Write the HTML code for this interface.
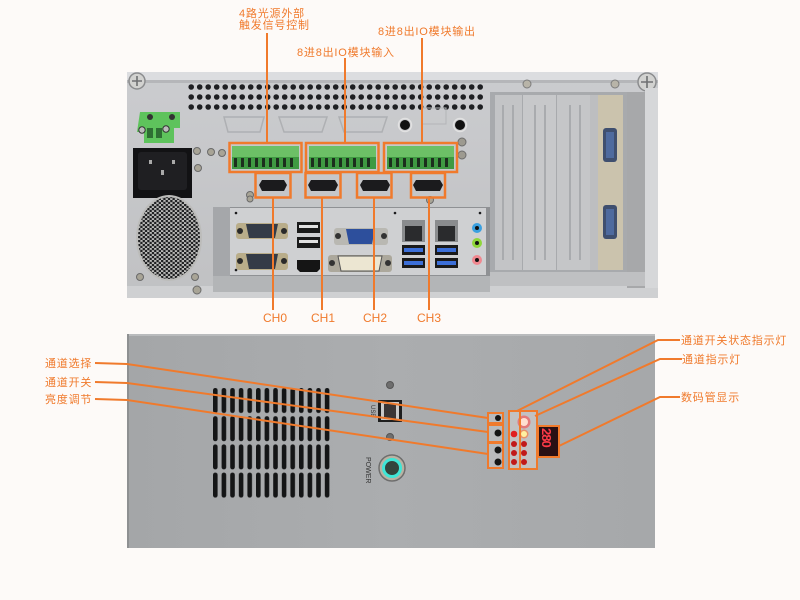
<!DOCTYPE html>
<html><head><meta charset="utf-8"><style>
html,body{margin:0;padding:0;background:#fdfaf8;}
svg{display:block;}
text{font-family:"Liberation Sans","Noto Sans CJK SC",sans-serif;}
</style></head><body>
<svg width="800" height="600" viewBox="0 0 800 600" xmlns="http://www.w3.org/2000/svg">
<defs>
<pattern id="holes" x="187" y="82" width="8.5" height="10" patternUnits="userSpaceOnUse">
<circle cx="4.2" cy="5" r="2.8" fill="#1e1f22"/></pattern>
<pattern id="slots" x="213" y="388" width="8.6" height="28.2" patternUnits="userSpaceOnUse">
<rect x="0" y="0" width="4.6" height="25" rx="2.3" fill="#141516"/></pattern>
<pattern id="fan" x="0" y="0" width="4.6" height="4" patternUnits="userSpaceOnUse">
<circle cx="1.15" cy="1" r="1.3" fill="#1f2022"/><circle cx="3.45" cy="3" r="1.3" fill="#1f2022"/></pattern>
<linearGradient id="topg" x1="0" y1="0" x2="0" y2="1"><stop offset="0" stop-color="#cbcccf"/><stop offset="1" stop-color="#c0c1c3"/></linearGradient>
<linearGradient id="botg" x1="0" y1="0" x2="1" y2="0"><stop offset="0" stop-color="#a4a6a8"/><stop offset="0.5" stop-color="#abadaf"/><stop offset="1" stop-color="#a6a8aa"/></linearGradient>
</defs>

<!-- ============ TOP CHASSIS ============ -->
<rect x="127" y="72" width="531" height="226" fill="url(#topg)"/>
<rect x="127" y="72" width="531" height="8" fill="#dcdde0"/>
<rect x="127" y="80" width="531" height="3" fill="#b5b6b9"/>
<rect x="127" y="286" width="531" height="12" fill="#cfd0d2"/>
<circle cx="137" cy="81" r="8" fill="#d2d2d0" stroke="#8b8c8e" stroke-width="1.5"/>
<path d="M132 81h10M137 76v10" stroke="#6f7072" stroke-width="1.6"/>
<circle cx="647" cy="82" r="9" fill="#d2d2d0" stroke="#8b8c8e" stroke-width="1.5"/>
<path d="M641 82h12M647 76v12" stroke="#6f7072" stroke-width="1.6"/>
<circle cx="527" cy="84" r="4" fill="#b8b4a8" stroke="#7c7c7c"/>
<circle cx="615" cy="84" r="4" fill="#b8b4a8" stroke="#7c7c7c"/>
<rect x="187" y="82" width="298" height="30" fill="url(#holes)"/>
<path d="M224 117 h40 l-4 15 h-32 z" fill="none" stroke="#aeb0b3" stroke-width="1.5"/>
<path d="M279 117 h48 l-5 15 h-38 z" fill="none" stroke="#aeb0b3" stroke-width="1.5"/>
<path d="M339 117 h48 l-5 15 h-38 z" fill="none" stroke="#aeb0b3" stroke-width="1.5"/>
<rect x="422" y="108" width="24" height="16" fill="none" stroke="#b3b5b8"/>
<circle cx="405" cy="125" r="5" fill="#111"/><circle cx="405" cy="125" r="6.5" fill="none" stroke="#e2e2e2" stroke-width="1.5"/>
<circle cx="460" cy="125" r="5" fill="#111"/><circle cx="460" cy="125" r="6.5" fill="none" stroke="#e2e2e2" stroke-width="1.5"/>
<circle cx="462" cy="142" r="4" fill="#9d9a90" stroke="#6d6d6d"/>
<circle cx="462" cy="155" r="4" fill="#9d9a90" stroke="#6d6d6d"/>
<path d="M140 112 h40 v16 h-6 v15 h-30 v-11 h-7 z" fill="#5ec35c"/>
<rect x="147" y="128" width="6" height="10" fill="#2e6e33"/><rect x="156" y="128" width="6" height="10" fill="#2e6e33"/>
<circle cx="150" cy="117" r="3" fill="#333"/><circle cx="172" cy="117" r="3" fill="#333"/>
<circle cx="142" cy="130" r="3.2" fill="#bbb" stroke="#333"/><circle cx="166" cy="129" r="3.2" fill="#bbb" stroke="#333"/>
<rect x="133" y="148" width="59" height="50" fill="#121214"/>
<rect x="138" y="152" width="49" height="38" rx="3" fill="#1f1f22"/>
<rect x="149" y="160" width="3" height="4" fill="#aaa"/><rect x="172" y="160" width="3" height="4" fill="#aaa"/><rect x="161" y="170" width="3" height="5" fill="#aaa"/>
<g fill="#a8a496" stroke="#6a6a6a">
<circle cx="197" cy="151" r="3.5"/><circle cx="198" cy="168" r="3.5"/><circle cx="211" cy="152" r="3.5"/><circle cx="222" cy="153" r="3.5"/>
<circle cx="250" cy="195" r="3.5"/><circle cx="140" cy="277" r="3.5"/><circle cx="195" cy="277" r="3.5"/><circle cx="197" cy="290" r="4"/>
<circle cx="430" cy="200" r="3.5"/><circle cx="250" cy="199" r="3"/>
</g>
<ellipse cx="169" cy="238" rx="33" ry="43" fill="#bcbcba"/>
<ellipse cx="169" cy="238" rx="31" ry="41" fill="url(#fan)"/>
<rect x="213" y="207" width="277" height="85" fill="#8f9194"/>
<rect x="213" y="207" width="17" height="85" fill="#a5a7aa"/>
<rect x="230" y="208" width="256" height="67" fill="#cfd0d2"/>
<rect x="213" y="276" width="277" height="16" fill="#b3b5b7"/>
<g fill="#1b1b1d"><circle cx="236" cy="213" r="1.3"/><circle cx="395" cy="213" r="1.3"/><circle cx="480" cy="213" r="1.3"/><circle cx="236" cy="270" r="1.3"/></g>
<g>
<rect x="236" y="223" width="52" height="16" rx="3" fill="#b9ad8a"/>
<path d="M246 224 h32 l-3 14 h-26 z" fill="#343b47"/>
<circle cx="240" cy="231" r="3" fill="#2a2a2a"/><circle cx="284" cy="231" r="3" fill="#2a2a2a"/>
<rect x="236" y="253" width="52" height="17" rx="3" fill="#b9ad8a"/>
<path d="M246 254 h32 l-3 15 h-26 z" fill="#343b47"/>
<circle cx="240" cy="261" r="3" fill="#2a2a2a"/><circle cx="284" cy="261" r="3" fill="#2a2a2a"/>
</g>
<rect x="297" y="222" width="23" height="11" fill="#1a1a1a"/><rect x="299" y="225" width="19" height="3" fill="#e0e0e0"/>
<rect x="297" y="237" width="23" height="11" fill="#1a1a1a"/><rect x="299" y="240" width="19" height="3" fill="#e0e0e0"/>
<path d="M297 260 h23 v9 l-3 3 h-17 l-3 -3 z" fill="#151515"/>
<rect x="334" y="228" width="54" height="17" rx="3" fill="#b9b8b2"/>
<path d="M346 229 h29 l-3 15 h-23 z" fill="#2d4f9c"/>
<circle cx="338" cy="236" r="3" fill="#333"/><circle cx="384" cy="236" r="3" fill="#333"/>
<rect x="328" y="255" width="64" height="17" rx="3" fill="#aca89c"/>
<path d="M338 256 h44 l-3 15 h-38 z" fill="#ece6d2" stroke="#555"/>
<circle cx="332" cy="263" r="3" fill="#333"/><circle cx="388" cy="263" r="3" fill="#333"/>
<rect x="402" y="220" width="23" height="22" fill="#8a8c8e"/><rect x="405" y="226" width="17" height="15" fill="#2a2b2d"/>
<rect x="435" y="220" width="23" height="22" fill="#8a8c8e"/><rect x="438" y="226" width="17" height="15" fill="#2a2b2d"/>
<g><rect x="402" y="245" width="23" height="10" fill="#1a1a1a"/><rect x="404" y="248" width="19" height="4" fill="#3c6fd8"/>
<rect x="402" y="258" width="23" height="10" fill="#1a1a1a"/><rect x="404" y="261" width="19" height="4" fill="#3c6fd8"/>
<rect x="435" y="245" width="23" height="10" fill="#1a1a1a"/><rect x="437" y="248" width="19" height="4" fill="#3c6fd8"/>
<rect x="435" y="258" width="23" height="10" fill="#1a1a1a"/><rect x="437" y="261" width="19" height="4" fill="#3c6fd8"/></g>
<circle cx="477" cy="228" r="5" fill="#3aa0e0"/><circle cx="477" cy="228" r="2" fill="#111"/>
<circle cx="477" cy="243" r="5" fill="#8fd63a"/><circle cx="477" cy="243" r="2" fill="#111"/>
<circle cx="477" cy="260" r="5" fill="#f08890"/><circle cx="477" cy="260" r="2" fill="#111"/>
<rect x="490" y="92" width="140" height="180" fill="#a8aaad"/>
<rect x="495" y="95" width="27" height="175" fill="#c3c4c6"/>
<rect x="523" y="95" width="33" height="175" fill="#c7c8ca"/>
<rect x="557" y="95" width="33" height="175" fill="#c5c6c8"/>
<rect x="590" y="95" width="8" height="175" fill="#bdbec0"/>
<g stroke="#a9abae" stroke-width="2">
<path d="M503 105v155M513 105v155M535 105v155M545 105v155M570 105v155M580 105v155"/></g>
<rect x="598" y="95" width="25" height="175" fill="#cbc3ad"/>
<rect x="603" y="128" width="14" height="34" rx="3" fill="#3f4f6f"/><rect x="606" y="132" width="8" height="26" fill="#4e6a9e"/>
<rect x="603" y="205" width="14" height="34" rx="3" fill="#3f4f6f"/><rect x="606" y="209" width="8" height="26" fill="#4e6a9e"/>
<rect x="627" y="92" width="18" height="196" fill="#a7a8aa"/>
<rect x="645" y="88" width="13" height="200" fill="#d6d7d9"/>
<rect x="490" y="272" width="155" height="14" fill="#bfc0c2"/>

<g>
<rect x="232" y="146" width="67" height="11" fill="#6cc066"/>
<rect x="232" y="157" width="67" height="12" fill="#3f9a42"/>
<rect x="309" y="146" width="67" height="11" fill="#6cc066"/>
<rect x="309" y="157" width="67" height="12" fill="#3f9a42"/>
<rect x="387" y="146" width="67" height="11" fill="#6cc066"/>
<rect x="387" y="157" width="67" height="12" fill="#3f9a42"/>
</g>
<g fill="#1c2f1d">
<path d="M234 158h3v9h-3zM241 158h3v9h-3zM248 158h3v9h-3zM255 158h3v9h-3zM262 158h3v9h-3zM269 158h3v9h-3zM276 158h3v9h-3zM283 158h3v9h-3zM290 158h3v9h-3z"/>
<path d="M311 158h3v9h-3zM318 158h3v9h-3zM325 158h3v9h-3zM332 158h3v9h-3zM339 158h3v9h-3zM346 158h3v9h-3zM353 158h3v9h-3zM360 158h3v9h-3zM367 158h3v9h-3z"/>
<path d="M389 158h3v9h-3zM396 158h3v9h-3zM403 158h3v9h-3zM410 158h3v9h-3zM417 158h3v9h-3zM424 158h3v9h-3zM431 158h3v9h-3zM438 158h3v9h-3zM445 158h3v9h-3z"/>
</g>
<g fill="#1b1b1d">
<path d="M262 180 h22 l3 5 l-3 6 h-22 l-3 -6 z"/>
<path d="M311 180 h24 l3 5 l-3 6 h-24 l-3 -6 z"/>
<path d="M363 180 h24 l3 5 l-3 6 h-24 l-3 -6 z"/>
<path d="M416 180 h24 l3 5 l-3 6 h-24 l-3 -6 z"/>
</g>
<g fill="none" stroke="#f07a2c" stroke-width="2.5">
<rect x="229.5" y="143" width="72" height="29"/>
<rect x="306" y="143" width="72.5" height="29"/>
<rect x="384" y="143" width="73" height="29"/>
<rect x="255.5" y="173" width="35" height="24.5"/>
<rect x="305.5" y="173" width="35" height="24.5"/>
<rect x="357" y="173" width="34.5" height="24.5"/>
<rect x="411" y="173" width="34" height="24.5"/>
</g>
<g stroke="#f07a2c" stroke-width="2" fill="none">
<path d="M267 33V142M345 58V142M422 38V142"/>
<path d="M273 198V310M322 198V310M374 198V310M429 198V310"/>
</g>
<g fill="#f07a2c" font-size="11" letter-spacing="0.8">
<text x="239" y="17">4路光源外部</text>
<text x="239" y="28.5">触发信号控制</text>
<text x="378" y="35">8进8出IO模块输出</text>
<text x="297" y="56">8进8出IO模块输入</text>
</g>
<g fill="#f07a2c" font-size="12">
<text x="263" y="322">CH0</text>
<text x="311" y="322">CH1</text>
<text x="363" y="322">CH2</text>
<text x="417" y="322">CH3</text>
</g>

<!-- ============ BOTTOM CHASSIS ============ -->
<rect x="127" y="334" width="528" height="214" fill="url(#botg)"/>
<rect x="127" y="334" width="528" height="2" fill="#b9bbbd"/>
<rect x="127" y="334" width="2" height="214" fill="#8e9092"/>
<rect x="213" y="388" width="117" height="110" fill="url(#slots)"/>
<circle cx="390" cy="385" r="3.5" fill="#6e6e6e" stroke="#555"/>
<circle cx="390" cy="437" r="3.5" fill="#6e6e6e" stroke="#555"/>
<rect x="378" y="400" width="24" height="22" fill="#1e1e1e"/>
<rect x="381" y="402" width="18" height="18" fill="#c9c9c9"/>
<rect x="384" y="404" width="12" height="15" fill="#3a3535"/>
<text x="0" y="0" font-size="6" fill="#333" transform="translate(371,405) rotate(90)">USB</text>
<circle cx="392" cy="468" r="13" fill="#b8b2a2" stroke="#6e6e6e" stroke-width="1.5"/>
<circle cx="392" cy="468" r="8.5" fill="#33453c" stroke="#3fe6d6" stroke-width="3"/>
<text x="0" y="0" font-size="7" fill="#333" transform="translate(366,457) rotate(90)">POWER</text>
<rect x="488" y="413" width="15" height="10" fill="#b9babc"/>
<rect x="488" y="425" width="15" height="17" fill="#b9babc"/>
<rect x="488" y="443" width="15" height="25" fill="#b9babc"/>
<circle cx="498" cy="418" r="3" fill="#151515"/>
<circle cx="498" cy="433" r="3.5" fill="#151515"/>
<circle cx="498" cy="450" r="3.5" fill="#151515"/>
<circle cx="498" cy="462" r="3.5" fill="#151515"/>
<rect x="509" y="411" width="28" height="58" fill="#c2c2c2"/>
<circle cx="524" cy="422" r="6.5" fill="#ff4040" opacity="0.55"/>
<circle cx="524" cy="422" r="4" fill="#ffe0d0"/>
<circle cx="524" cy="434" r="4.5" fill="#ff7030" opacity="0.6"/>
<circle cx="524" cy="434" r="3" fill="#fff0a0"/>
<g fill="#c11a1a">
<circle cx="514" cy="434" r="3.3" fill="#e02020"/>
<circle cx="514" cy="444" r="3"/><circle cx="514" cy="453" r="3"/><circle cx="514" cy="462" r="3"/>
<circle cx="524" cy="444" r="3"/><circle cx="524" cy="453" r="3"/><circle cx="524" cy="462" r="3"/>
</g>
<rect x="538" y="426" width="21" height="31" fill="#2a1014"/>
<text x="0" y="0" font-size="13" font-family="Liberation Mono, monospace" font-weight="bold" fill="#ff3a48" transform="translate(542,428) rotate(90)" letter-spacing="-1">280</text>
<g fill="none" stroke="#f07a2c" stroke-width="2">
<rect x="488" y="413" width="15" height="10"/>
<rect x="488" y="425" width="15" height="17"/>
<rect x="488" y="443" width="15" height="25"/>
<rect x="509" y="411" width="11" height="58"/>
<rect x="520" y="411" width="17" height="58"/>
<rect x="538" y="426" width="21" height="31"/>
</g>
<g stroke="#f07a2c" stroke-width="2" fill="none">
<path d="M95 363 L127 364 L488 418"/>
<path d="M95 382 L127 383 L488 432"/>
<path d="M95 399 L127 400 L488 454"/>
<path d="M680 340 L658 340 L517 411"/>
<path d="M682 359 L660 359 L535 416"/>
<path d="M680 397 L660 397 L559 446"/>
</g>
<g fill="#f07a2c" font-size="11" letter-spacing="0.8">
<text x="45" y="367">通道选择</text>
<text x="45" y="386">通道开关</text>
<text x="45" y="403">亮度调节</text>
<text x="681" y="344">通道开关状态指示灯</text>
<text x="682" y="363">通道指示灯</text>
<text x="681" y="401">数码管显示</text>
</g>
</svg>
</body></html>
